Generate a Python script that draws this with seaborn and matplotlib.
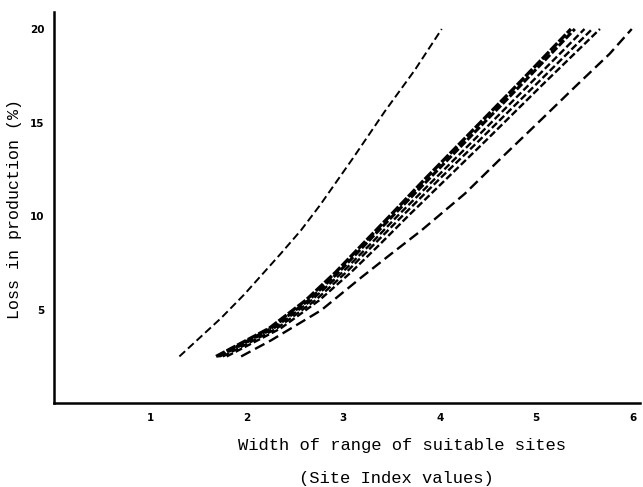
import pandas as pd
import seaborn as sns
import matplotlib.pyplot as plt

# leftmost curve, read as (width, loss) pairs
width_f = [1.30, 1.73, 1.97, 2.35, 2.56, 2.76, 3.10, 3.43, 3.74, 4.02]
loss_f = [2.5, 4.54, 5.8, 7.99, 9.24, 10.6, 13.1, 15.6, 17.8, 20.0]

# lowest, long-dash curve
width_e = [1.94, 2.25, 2.77, 3.19, 3.50, 3.81, 4.26, 4.61, 4.99, 5.41, 5.76, 5.99]
loss_e = [2.5, 3.36, 4.97, 6.74, 8.0, 9.24, 11.2, 12.97, 14.85, 16.95, 18.67, 20.0]

# the close bundle, read at common loss levels
loss_levels = [2.5, 4.0, 5.5, 7.0, 8.5, 10.0, 12.0, 14.0, 17.0, 20.0]
width_a1 = [1.68, 2.23, 2.61, 2.92, 3.20, 3.48, 3.85, 4.23, 4.80, 5.36]
width_a2 = [1.70, 2.25, 2.64, 2.95, 3.23, 3.51, 3.89, 4.27, 4.84, 5.40]
width_b = [1.72, 2.28, 2.67, 2.99, 3.28, 3.56, 3.95, 4.34, 4.92, 5.50]
width_c = [1.75, 2.31, 2.71, 3.03, 3.32, 3.61, 4.00, 4.40, 4.99, 5.58]
width_d = [1.79, 2.35, 2.75, 3.08, 3.38, 3.67, 4.07, 4.47, 5.06, 5.66]

curves = {
    "F": (width_f, loss_f),
    "A1": (width_a1, loss_levels),
    "A2": (width_a2, loss_levels),
    "B": (width_b, loss_levels),
    "C": (width_c, loss_levels),
    "D": (width_d, loss_levels),
    "E": (width_e, loss_e),
}

df = pd.concat(
    [pd.DataFrame({"width": w, "loss": l, "curve": k}) for k, (w, l) in curves.items()],
    ignore_index=True,
)

dash_map = {"F": (4, 2), "A1": (3, 0.6), "A2": (2.5, 0.8), "B": (3, 1.3),
            "C": (3, 1.3), "D": (3, 1.3), "E": (4.5, 2.2)}
width_map = {"F": 1.4, "A1": 2.4, "A2": 2.2, "B": 1.7, "C": 1.7, "D": 1.7, "E": 1.7}

sns.set_theme(style="white")
plt.rcParams["text.color"] = "black"

fig = plt.figure(figsize=(6.43, 4.87), dpi=100)
ax = fig.add_axes([0.084, 0.172, 0.912, 0.803])

sns.lineplot(data=df, x="width", y="loss", style="curve", size="curve",
             dashes=dash_map, sizes=width_map, color="black",
             sort=False, estimator=None, legend=False, ax=ax)

ax.set_xlim(0, 6.08)
ax.set_ylim(0, 20.9)
ax.set_xticks([1, 2, 3, 4, 5, 6])
ax.set_yticks([5, 10, 15, 20])
ax.tick_params(direction="in", length=3, width=1.2, color="black",
               labelcolor="black", labelsize=7.5, pad=7)
for lab in ax.get_xticklabels() + ax.get_yticklabels():
    lab.set_fontweight("bold")

for side in ["top", "right"]:
    ax.spines[side].set_visible(False)
for side in ["left", "bottom"]:
    ax.spines[side].set_color("black")
    ax.spines[side].set_linewidth(1.8)

mono = "Liberation Mono"
ax.set_xlabel("")
ax.set_ylabel("")
fig.text(0.022, 0.571, "Loss in production (%)", family=mono, fontsize=12,
         rotation=90, ha="center", va="center")
fig.text(0.625, 0.086, "Width of range of suitable sites", family=mono,
         fontsize=12.3, ha="center", va="center")
fig.text(0.616, 0.018, "(Site Index values)", family=mono,
         fontsize=12.3, ha="center", va="center")

fig.savefig("out.png", dpi=100)
